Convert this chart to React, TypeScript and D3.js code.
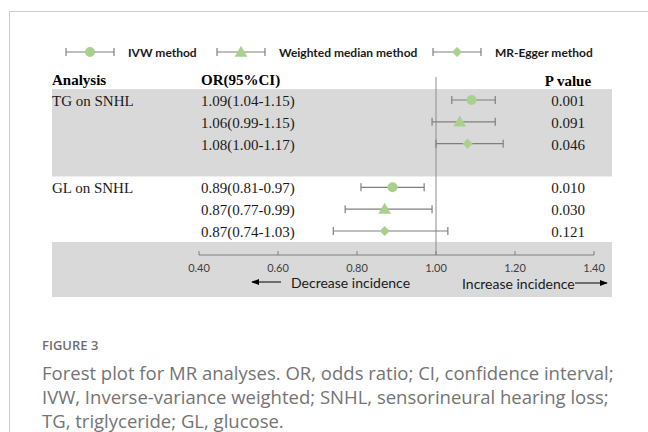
import React from 'react';
import * as d3 from 'd3';

// groups shown in the table
const groups = ['TG on SNHL', 'GL on SNHL'];
const methods = ['IVW method', 'Weighted median method', 'MR-Egger method'];
const shapes = ['circle', 'triangle', 'diamond'];

// OR and 95% CI per group (rows follow the methods order)
const orValues = [
  [1.09, 1.06, 1.08],
  [0.89, 0.87, 0.87],
];
const ciLow = [
  [1.04, 0.99, 1.0],
  [0.81, 0.77, 0.74],
];
const ciHigh = [
  [1.15, 1.15, 1.17],
  [0.97, 0.99, 1.03],
];
const pValues = [
  ['0.001', '0.091', '0.046'],
  ['0.010', '0.030', '0.121'],
];
const ticks = [0.4, 0.6, 0.8, 1.0, 1.2, 1.4];

const captionTitle = 'FIGURE 3';
const captionLines = [
  'Forest plot for MR analyses. OR, odds ratio; CI, confidence interval;',
  'IVW, Inverse-variance weighted; SNHL, sensorineural hearing loss;',
  'TG, triglyceride; GL, glucose.',
];

const W = 648;
const H = 432;
const GREEN = '#a9d18e';
const BAR = '#7f7f7f';
const BAND = '#d9d9d9';
const SERIF = '"Liberation Serif", "Times New Roman", serif';
const SANS = 'Lato, "Noto Sans", sans-serif';

const Marker: React.FC<{ shape: string; x: number; y: number }> = ({ shape, x, y }) => {
  if (shape === 'circle') return <circle cx={x} cy={y} r={5} fill={GREEN} />;
  const type = shape === 'triangle' ? d3.symbolTriangle : d3.symbolDiamond2;
  const size = shape === 'triangle' ? 70 : 65;
  const path = d3.symbol().type(type).size(size)() as string;
  return <path d={path} transform={`translate(${x},${y + (shape === 'triangle' ? 1 : 0)})`} fill={GREEN} />;
};

const ErrBar: React.FC<{ x0: number; x1: number; y: number }> = ({ x0, x1, y }) => (
  <g stroke={BAR} strokeWidth={1.2}>
    <line x1={x0} x2={x1} y1={y} y2={y} />
    <line x1={x0} x2={x0} y1={y - 4} y2={y + 4} />
    <line x1={x1} x2={x1} y1={y - 4} y2={y + 4} />
  </g>
);

const App: React.FC = () => {
  const x = d3.scaleLinear().domain([0.4, 1.4]).range([199, 594]);
  // row index: -1 header, 0..2 first group, 3 empty, 4..6 second group
  const row = d3.scaleLinear().domain([0, 6]).range([100, 231]);
  const axisY = 255;
  const legendX = [66, 217, 433];
  const legendY = 52;

  return (
    <svg width={W} height={H} style={{ position: 'absolute', left: 0, top: 0 }}>
      <rect width={W} height={H} fill="#fff" />
      <path d={`M9.5,${H}V11.5H${W}`} fill="none" stroke="#cccccc" />

      {/* legend */}
      {methods.map((m, i) => (
        <g key={m}>
          <ErrBar x0={legendX[i]} x1={legendX[i] + 48} y={legendY} />
          <Marker shape={shapes[i]} x={legendX[i] + 24} y={legendY} />
          <text x={legendX[i] + 62} y={legendY + 4.5} fontFamily={SANS} fontWeight="bold" fontSize={12} fill="#1a1a1a">
            {m}
          </text>
        </g>
      ))}

      {/* shaded bands */}
      <rect x={52} y={row(-0.5)} width={560} height={row(3.5) - row(-0.5)} fill={BAND} />
      <rect x={52} y={row(6.5)} width={560} height={297 - row(6.5)} fill={BAND} />

      {/* header */}
      <g fontFamily={SERIF} fontWeight="bold" fontSize={15} fill="#000">
        <text x={52} y={row(-1) + 7}>Analysis</text>
        <text x={201} y={row(-1) + 7}>OR(95%CI)</text>
        <text x={568} y={row(-1) + 8} textAnchor="middle">P value</text>
      </g>

      {/* reference line */}
      <line x1={x(1)} x2={x(1)} y1={77} y2={axisY} stroke="#8c8c8c" strokeWidth={1} />

      {/* rows */}
      {groups.map((g, gi) => (
        <g key={g}>
          {methods.map((m, mi) => {
            const r = row(gi * 4 + mi);
            return (
              <g key={m}>
                {mi === 0 && (
                  <text x={52} y={r + 6} fontFamily={SERIF} fontSize={15} fill="#1a1a1a">{g}</text>
                )}
                <text x={201} y={r + 6} fontFamily={SERIF} fontSize={15} fill="#1a1a1a">
                  {`${orValues[gi][mi].toFixed(2)}(${ciLow[gi][mi].toFixed(2)}-${ciHigh[gi][mi].toFixed(2)})`}
                </text>
                <ErrBar x0={x(ciLow[gi][mi])} x1={x(ciHigh[gi][mi])} y={r} />
                <Marker shape={shapes[mi]} x={x(orValues[gi][mi])} y={r} />
                <text x={568} y={r + 6} textAnchor="middle" fontFamily={SERIF} fontSize={15} fill="#1a1a1a">
                  {pValues[gi][mi]}
                </text>
              </g>
            );
          })}
        </g>
      ))}

      {/* axis */}
      <g stroke={BAR} strokeWidth={1}>
        <line x1={x(0.4)} x2={x(1.4)} y1={axisY} y2={axisY} />
        {ticks.map(t => (
          <line key={t} x1={x(t)} x2={x(t)} y1={axisY - 4} y2={axisY} />
        ))}
      </g>
      {ticks.map(t => (
        <text key={t} x={x(t)} y={axisY + 17} textAnchor="middle" fontFamily={SANS} fontSize={11} fill="#404040">
          {d3.format('.2f')(t)}
        </text>
      ))}

      {/* direction arrows */}
      <defs>
        <marker id="arr" viewBox="0 0 10 10" refX={9} refY={5} markerWidth={8} markerHeight={8} orient="auto-start-reverse">
          <path d="M0,1L10,5L0,9Z" fill="#000" />
        </marker>
      </defs>
      <line x1={281} x2={252} y1={282} y2={282} stroke="#000" strokeWidth={1} markerEnd="url(#arr)" />
      <text x={291} y={288} fontFamily={SANS} fontSize={14} fill="#1a1a1a">Decrease incidence</text>
      <text x={462} y={289} fontFamily={SANS} fontSize={14} fill="#1a1a1a">Increase incidence</text>
      <line x1={575} x2={607} y1={283} y2={283} stroke="#000" strokeWidth={1} markerEnd="url(#arr)" />

      {/* caption */}
      <text x={42} y={350} fontFamily='"Open Sans", sans-serif' fontWeight="600" fontSize={13} fill="#6e6e6e">
        {captionTitle}
      </text>
      {captionLines.map((l, i) => (
        <text key={i} x={42} y={380 + i * 24} fontFamily='"Open Sans", sans-serif' fontSize={18.5} fill="#747474">
          {l}
        </text>
      ))}
    </svg>
  );
};

export default App;
